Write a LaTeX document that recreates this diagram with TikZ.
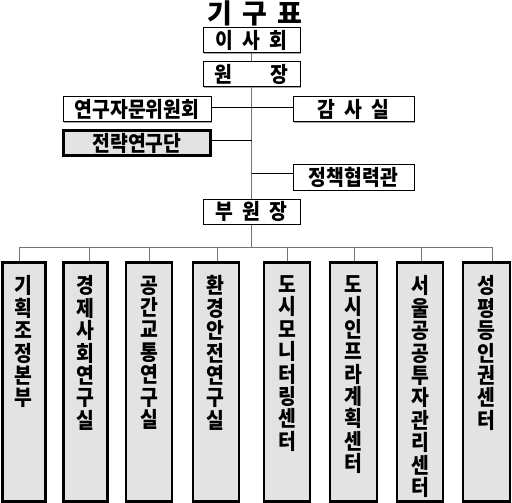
\documentclass[tikz,border=0pt]{standalone}
\usepackage{fontspec}
\newfontfamily\kr{Noto Sans CJK KR}
\newfontfamily\krn{Noto Sans CJK KR}[FakeStretch=0.9]
\usetikzlibrary{shadows}
\begin{document}
\begin{tikzpicture}[x=1pt,y=-1pt,
  box/.style={draw=black, line width=1pt, fill=white, inner sep=0pt, minimum height=25pt,
    font=\krn\bfseries\fontsize{21.5}{21.5}\selectfont,
    drop shadow={shadow xshift=1.3pt, shadow yshift=-1.3pt, fill=gray!70, opacity=1}},
  graybox/.style={draw=black, line width=2.4pt, fill=black!11, inner sep=0pt, minimum height=25pt,
    font=\krn\bfseries\fontsize{21.5}{21.5}\selectfont},
  dept/.style={draw=black, line width=2.4pt, fill=black!11, inner sep=0pt, minimum height=239pt},
  vtext/.style={align=center, inner sep=0pt, anchor=north,
    font=\krn\bfseries\fontsize{21.5}{22.4}\selectfont},
  trunk/.style={draw=black!55, line width=0.9pt},
  branch/.style={draw=black, line width=0.9pt}
]
\useasboundingbox (0,0) rectangle (512,503);
\node[font=\kr\bfseries\fontsize{27}{27}\selectfont, inner sep=0pt] (title) at (255,13.5) {기\hspace{10pt}구\hspace{10pt}표};

\node[box, minimum width=97pt] (board) at (251.5,40.5) {이\hspace{9pt}사\hspace{9pt}회};
\node[box, minimum width=97pt] (dir) at (251.5,74.5) {원\hspace{39pt}장};
\node[box, minimum width=148pt] (adv) at (137,109.5) {연구자문위원회};
\node[box, minimum width=121pt] (audit) at (353.5,109.5) {감\hspace{9pt}사\hspace{9pt}실};
\node[graybox, minimum width=147pt, minimum height=25pt] (strat) at (137,143) {전략연구단};
\node[box, minimum width=121pt, minimum height=26pt] (policy) at (353.5,177) {정책협력관};
\node[box, minimum width=97pt] (vice) at (251.5,211.5) {부\hspace{9pt}원\hspace{9pt}장};

\coordinate (j1) at (251.5,107);
\coordinate (j2) at (251.5,140);
\coordinate (j3) at (251.5,173);
\coordinate (bar) at (251.5,247);
\coordinate (bl) at (19,247);
\coordinate (br) at (492,247);

\draw[trunk] (board) -- (dir);
\draw[trunk] (dir) -- (vice);
\draw[trunk] (vice) -- (bar);
\draw[trunk] (bl) -- (br);
\draw[branch] (adv.east |- j1) -- (audit.west |- j1);
\draw[branch] (strat.east |- j2) -- (j2);
\draw[branch] (j3) -- (policy.west |- j3);

\node[dept, minimum width=43pt] (d1) at (24,382) {};
\node[dept, minimum width=44pt] (d2) at (85.5,382) {};
\node[dept, minimum width=46pt] (d3) at (149,382) {};
\node[dept, minimum width=46pt] (d4) at (216,382) {};
\node[dept, minimum width=46pt] (d5) at (287,382) {};
\node[dept, minimum width=47pt] (d6) at (353.5,382) {};
\node[dept, minimum width=46pt] (d7) at (420,382) {};
\node[dept, minimum width=47pt] (d8) at (486.5,382) {};

\coordinate (s1) at (19,247);
\coordinate (s2) at (89,247);
\coordinate (s3) at (149,247);
\coordinate (s4) at (217,247);
\coordinate (s5) at (287,247);
\coordinate (s6) at (354,247);
\coordinate (s7) at (421,247);
\coordinate (s8) at (492,247);
\foreach \i in {1,...,8} { \draw[trunk] (s\i) -- (s\i |- d\i.north); }

\node[vtext] (t1) at (23,275.5) {기\\획\\조\\정\\본\\부};
\node[vtext] (t2) at (85,275.5) {경\\제\\사\\회\\연\\구\\실};
\node[vtext] (t3) at (149,275.5) {공\\간\\교\\통\\연\\구\\실};
\node[vtext] (t4) at (215,275.5) {환\\경\\안\\전\\연\\구\\실};
\node[vtext] (t5) at (287,275.5) {도\\시\\모\\니\\터\\링\\센\\터};
\node[vtext] (t6) at (353,275.5) {도\\시\\인\\프\\라\\계\\획\\센\\터};
\node[vtext] (t7) at (420,275.5) {서\\울\\공\\공\\투\\자\\관\\리\\센\\터};
\node[vtext] (t8) at (486,275.5) {성\\평\\등\\인\\권\\센\\터};
\end{tikzpicture}
\end{document}
